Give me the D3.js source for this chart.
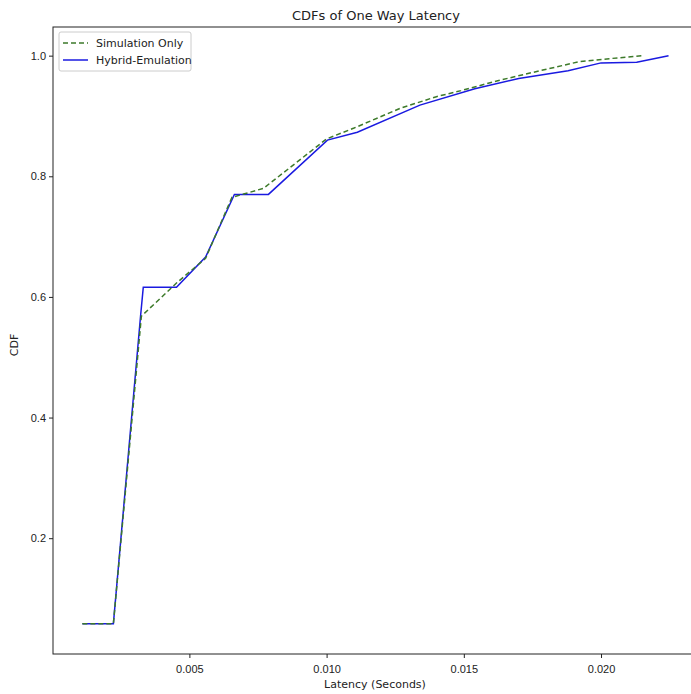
<!DOCTYPE html>
<html><head><meta charset="utf-8">
<script src="https://cdn.jsdelivr.net/npm/d3@7"></script>
<style>body{margin:0;background:#fff}svg{display:block}</style>
</head><body>
<script>
const title = "CDFs of One Way Latency";
const xLabel = "Latency (Seconds)";
const yLabel = "CDF";
const seriesNames = ["Simulation Only", "Hybrid-Emulation"];
const simX = [0.0011,0.00223,0.00325,0.00453,0.00559,0.00655,0.0077,0.0100,0.0110,0.0127,0.0140,0.0149,0.0162,0.0173,0.0192,0.0203,0.0215];
const simY = [0.058,0.058,0.568,0.623,0.664,0.765,0.78,0.862,0.88,0.913,0.932,0.942,0.958,0.97,0.99,0.995,1.0];
const hybX = [0.0011,0.00223,0.00322,0.00332,0.00453,0.00559,0.00664,0.00788,0.01003,0.01112,0.0134,0.0154,0.0170,0.0188,0.0200,0.0213,0.02246];
const hybY = [0.058,0.058,0.568,0.616,0.616,0.666,0.77,0.77,0.86,0.873,0.918,0.945,0.962,0.975,0.988,0.989,1.0];
const xTicks = [0.005,0.010,0.015,0.020];
const yTicks = [0.2,0.4,0.6,0.8,1.0];

(function(){
const W = 691, H = 694;
const svg = d3.select("body").append("svg").attr("width", W).attr("height", H)
  .style("font-family", "DejaVu Sans, sans-serif");
const mL = 53, mR = 699, mT = 27, mB = 654;
const x = d3.scaleLinear().domain([0.00003, 0.02357]).range([mL, mR]);
const y = d3.scaleLinear().domain([0.008, 1.0475]).range([mB, mT]);

const gx = svg.append("g").attr("transform", `translate(0,${mB})`)
  .call(d3.axisBottom(x).tickValues(xTicks).tickFormat(d3.format(".3f")).tickSize(4).tickSizeOuter(0));
const gy = svg.append("g").attr("transform", `translate(${mL},0)`)
  .call(d3.axisLeft(y).tickValues(yTicks).tickFormat(d3.format(".1f")).tickSize(4).tickSizeOuter(0));
[gx, gy].forEach(g => {
  g.select(".domain").remove();
  g.selectAll("text").style("font-size", "11px").attr("fill", "#222");
  g.selectAll("line").attr("stroke", "#222");
});
gx.selectAll("text").attr("dy", "1.05em");

svg.append("rect").attr("x", mL).attr("y", mT).attr("width", mR-mL).attr("height", mB-mT)
  .attr("fill", "none").attr("stroke", "#222").attr("stroke-width", 1);

const line = d3.line().x(d => x(d[0])).y(d => y(d[1]));
const simData = simX.map((v,i) => [v, simY[i]]);
const hybData = hybX.map((v,i) => [v, hybY[i]]);
const colors = ["#3d7a2a", "#1a1ae0"];
svg.append("path").datum(hybData).attr("d", line).attr("fill","none")
  .attr("stroke", colors[1]).attr("stroke-width", 1.5);
svg.append("path").datum(simData).attr("d", line).attr("fill","none")
  .attr("stroke", colors[0]).attr("stroke-width", 1.5).attr("stroke-dasharray", "5,3");

svg.append("text").attr("x", 376).attr("y", 20).attr("text-anchor","middle")
  .style("font-size","13px").attr("fill","#222").text(title);
svg.append("text").attr("x", 375).attr("y", 688).attr("text-anchor","middle")
  .style("font-size","11px").attr("fill","#222").text(xLabel);
svg.append("text").attr("transform","translate(18,345) rotate(-90)").attr("text-anchor","middle")
  .style("font-size","11px").attr("fill","#222").text(yLabel);

const lg = svg.append("g");
lg.append("rect").attr("x", 59).attr("y", 32).attr("width", 132).attr("height", 39).attr("rx", 2)
  .attr("fill","#fff").attr("stroke","#ccc");
seriesNames.forEach((n,i) => {
  const yy = 43 + i*17;
  lg.append("line").attr("x1", 63).attr("x2", 88).attr("y1", yy).attr("y2", yy)
    .attr("stroke", colors[i]).attr("stroke-width", 1.5)
    .attr("stroke-dasharray", i===0 ? "5,3" : null);
  lg.append("text").attr("x", 96).attr("y", yy+4).style("font-size","11px").attr("fill","#222").text(n);
});
})();
</script>
</body></html>
